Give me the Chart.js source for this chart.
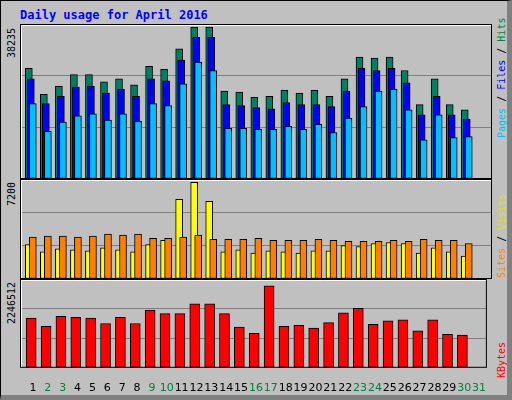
<!DOCTYPE html>
<html>
<head>
<title>Daily usage for April 2016</title>
<style>
  body { margin: 0; background: #fff; }
  #frame { position: absolute; left: 0; top: 0; width: 506px; height: 394px; background: #c0c0c0;
           border-top: 1px solid #000; border-left: 1px solid #000; border-right: 5px solid #808080; border-bottom: 5px solid #808080; }
  #title { position: absolute; left: 19px; top: 7px; font: bold 12px "DejaVu Sans Mono", monospace; color: #0000ff; }
  .wrap { position: absolute; left: 20px; }
  .vl { position: absolute; font: 10px "DejaVu Sans Mono", monospace; line-height: 12px; transform-origin: left top; transform: rotate(-90deg); white-space: nowrap; }
</style>
<script src="https://cdn.jsdelivr.net/npm/chart.js"></script>
</head>
<body>
<div id="frame">
  <div id="title">Daily usage for April 2016</div>
</div>
<div class="wrap" style="top:24px;width:472px;height:155px"><canvas id="c1"></canvas></div>
<div class="wrap" style="top:179px;width:472px;height:100px"><canvas id="c2"></canvas></div>
<div class="wrap" style="top:279px;width:472px;height:122px"><canvas id="c3"></canvas></div>

<div class="vl" style="left:6px;top:58px;color:#000">38235</div>
<div class="vl" style="left:6px;top:206px;color:#000">7200</div>
<div class="vl" style="left:6px;top:324px;color:#000">2246512</div>
<div class="vl" style="left:496px;top:138px"><span style="color:#00c0ff">Pages</span> / <span style="color:#0000ff">Files</span> / <span style="color:#008040">Hits</span></div>
<div class="vl" style="left:496px;top:278px"><span style="color:#ff8000">Sites</span> / <span style="color:#e0e000">Visits</span></div>
<div class="vl" style="left:496px;top:378px;color:#ff0000">KBytes</div>

<script>
const days = Array.from({length: 31}, (_, i) => i + 1);
const weekendDays = [2, 3, 9, 10, 16, 17, 23, 24, 30, 31];

const hits = [27285,20910,22950,25755,25755,23970,24735,23205,27795,27030,32130,37485,37485,21675,21420,20145,20400,21930,21165,21930,20400,24735,30090,29835,30090,26775,18360,24735,18360,17085];
const files = [24735,18615,20400,22695,22950,21165,22185,20400,24735,24225,29325,34935,34935,18360,18105,17595,17340,18870,18360,18360,17850,21675,27285,26775,27285,23715,15810,20400,15810,14790];
const pages = [18615,11730,14025,15555,16065,14535,16065,14280,18615,18105,23460,28815,26775,12495,12495,12240,12240,13005,12240,13515,11475,15045,17850,21675,22185,17085,9690,15810,10200,10455];
const visits = [2480,1950,2175,2100,2025,2250,2100,1950,2480,2785,5745,6960,5590,1950,2100,1870,2025,1950,1870,2025,2025,2405,2330,2555,2630,2555,1870,2250,1950,1645];
const sites = [3010,3085,3085,3010,3085,3240,3160,3240,2935,2935,3010,3160,2860,2860,2860,2935,2785,2785,2785,2860,2785,2705,2705,2705,2785,2705,2860,2785,2785,2555];
const kbytes = [1361200,1139800,1410400,1385800,1361200,1213600,1385800,1213600,1582600,1484200,1484200,1754800,1754800,1484200,1115200,943000,2246512,1139800,1164400,1090600,1238200,1508800,1631800,1189000,1287400,1312000,1016800,1312000,918400,893800];

const yMax = [38235, 7200, 2435000];

const frameBorder = {
  id: 'frameBorder',
  afterDraw(chart) {
    const a = chart.chartArea, ctx = chart.ctx;
    ctx.save();
    ctx.strokeStyle = '#000';
    ctx.lineWidth = 1;
    ctx.strokeRect(a.left + 0.5, a.top + 0.5, a.width - 1, a.height - 1);
    ctx.strokeStyle = '#fff';
    ctx.beginPath();
    ctx.moveTo(a.left + 1.5, a.bottom - 1); ctx.lineTo(a.left + 1.5, a.top + 1.5); ctx.lineTo(a.right - 1, a.top + 1.5);
    ctx.stroke();
    ctx.restore();
  }
};

function pts(arr, off) { return arr.map((v, i) => ({x: i + 1 + off, y: v})); }

function ds(label, arr, off, color, order, thick) {
  return { label, data: pts(arr, off), backgroundColor: color, borderColor: '#000', borderWidth: 1,
           borderSkipped: false, barThickness: thick, grouped: false, order };
}

function makeChart(id, datasets, max, showX) {
  new Chart(document.getElementById(id), {
    type: 'bar',
    data: { datasets },
    options: {
      responsive: true, maintainAspectRatio: false, animation: false,
      layout: { padding: 0 },
      plugins: { legend: { display: false }, tooltip: { enabled: false } },
      scales: {
        x: {
          type: 'linear', min: 0.5, max: 31.9, offset: false,
          display: showX,
          grid: { display: false },
          border: { display: false },
          afterBuildTicks: s => { s.ticks = days.map(d => ({value: d + 0.37})); },
          ticks: {
            autoSkip: false, maxRotation: 0, padding: 6,
            font: { family: 'DejaVu Sans', size: 11 },
            callback: v => Math.round(v - 0.37),
            color: c => weekendDays.includes(Math.round(c.tick.value - 0.37)) ? '#008040' : '#000'
          }
        },
        y: {
          min: 0, max: max,
          afterBuildTicks: s => { s.ticks = [0, max / 3, 2 * max / 3, max].map(v => ({value: v})); },
          ticks: { display: false },
          grid: { drawTicks: false, tickLength: 0, color: c => (c.index === 1 || c.index === 2) ? '#808080' : 'rgba(0,0,0,0)', lineWidth: 1 },
          border: { display: false },
          afterFit: s => { s.width = 0; }
        }
      }
    },
    plugins: [frameBorder]
  });
}

makeChart('c1', [
  ds('Hits', hits, 0.087, '#008060', 3, 7),
  ds('Files', files, 0.22, '#0000ff', 2, 7),
  ds('Pages', pages, 0.353, '#00c0ff', 1, 7)
], yMax[0], false);

makeChart('c2', [
  ds('Visits', visits, 0.087, '#ffff00', 2, 7),
  ds('Sites', sites, 0.353, '#ff8000', 1, 7)
], yMax[1], false);

makeChart('c3', [
  ds('KBytes', kbytes, 0.253, '#ff0000', 1, 10)
], yMax[2], true);
</script>
</body>
</html>
